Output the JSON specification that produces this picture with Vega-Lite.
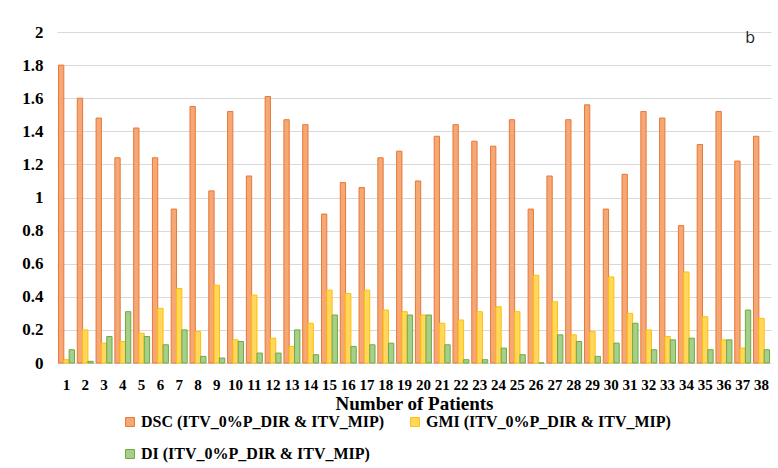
{
  "$schema": "https://vega.github.io/schema/vega-lite/v6.json",
  "width": 714,
  "height": 331,
  "autosize": {"type": "none"},
  "padding": {"left": 57, "top": 32, "right": 7, "bottom": 105},
  "background": "white",
  "title": {"text": "b", "anchor": "end", "orient": "top", "offset": -31, "dx": -16, "font": "Open Sans", "fontSize": 16, "fontWeight": "normal", "color": "#222222", "baseline": "middle"},
  "data": {"values": [
    {"p": 1, "DSC": 1.80, "GMI": 0.02, "DI": 0.08},
    {"p": 2, "DSC": 1.60, "GMI": 0.20, "DI": 0.01},
    {"p": 3, "DSC": 1.48, "GMI": 0.12, "DI": 0.16},
    {"p": 4, "DSC": 1.24, "GMI": 0.13, "DI": 0.31},
    {"p": 5, "DSC": 1.42, "GMI": 0.18, "DI": 0.16},
    {"p": 6, "DSC": 1.24, "GMI": 0.33, "DI": 0.11},
    {"p": 7, "DSC": 0.93, "GMI": 0.45, "DI": 0.20},
    {"p": 8, "DSC": 1.55, "GMI": 0.19, "DI": 0.04},
    {"p": 9, "DSC": 1.04, "GMI": 0.47, "DI": 0.03},
    {"p": 10, "DSC": 1.52, "GMI": 0.14, "DI": 0.13},
    {"p": 11, "DSC": 1.13, "GMI": 0.41, "DI": 0.06},
    {"p": 12, "DSC": 1.61, "GMI": 0.15, "DI": 0.06},
    {"p": 13, "DSC": 1.47, "GMI": 0.10, "DI": 0.20},
    {"p": 14, "DSC": 1.44, "GMI": 0.24, "DI": 0.05},
    {"p": 15, "DSC": 0.90, "GMI": 0.44, "DI": 0.29},
    {"p": 16, "DSC": 1.09, "GMI": 0.42, "DI": 0.10},
    {"p": 17, "DSC": 1.06, "GMI": 0.44, "DI": 0.11},
    {"p": 18, "DSC": 1.24, "GMI": 0.32, "DI": 0.12},
    {"p": 19, "DSC": 1.28, "GMI": 0.31, "DI": 0.29},
    {"p": 20, "DSC": 1.10, "GMI": 0.29, "DI": 0.29},
    {"p": 21, "DSC": 1.37, "GMI": 0.24, "DI": 0.11},
    {"p": 22, "DSC": 1.44, "GMI": 0.26, "DI": 0.02},
    {"p": 23, "DSC": 1.34, "GMI": 0.31, "DI": 0.02},
    {"p": 24, "DSC": 1.31, "GMI": 0.34, "DI": 0.09},
    {"p": 25, "DSC": 1.47, "GMI": 0.31, "DI": 0.05},
    {"p": 26, "DSC": 0.93, "GMI": 0.53, "DI": 0.00},
    {"p": 27, "DSC": 1.13, "GMI": 0.37, "DI": 0.17},
    {"p": 28, "DSC": 1.47, "GMI": 0.17, "DI": 0.13},
    {"p": 29, "DSC": 1.56, "GMI": 0.19, "DI": 0.04},
    {"p": 30, "DSC": 0.93, "GMI": 0.52, "DI": 0.12},
    {"p": 31, "DSC": 1.14, "GMI": 0.30, "DI": 0.24},
    {"p": 32, "DSC": 1.52, "GMI": 0.20, "DI": 0.08},
    {"p": 33, "DSC": 1.48, "GMI": 0.16, "DI": 0.14},
    {"p": 34, "DSC": 0.83, "GMI": 0.55, "DI": 0.15},
    {"p": 35, "DSC": 1.32, "GMI": 0.28, "DI": 0.08},
    {"p": 36, "DSC": 1.52, "GMI": 0.14, "DI": 0.14},
    {"p": 37, "DSC": 1.22, "GMI": 0.09, "DI": 0.32},
    {"p": 38, "DSC": 1.37, "GMI": 0.27, "DI": 0.08}
  ]},
  "transform": [{"fold": ["DSC", "GMI", "DI"], "as": ["series", "value"]}],
  "mark": {"type": "bar", "strokeWidth": 1},
  "encoding": {
    "x": {
      "field": "p", "type": "ordinal",
      "scale": {"paddingInner": 0.15, "paddingOuter": 0.08},
      "axis": {"title": "Number of Patients", "labelAngle": 0, "domain": false, "ticks": false, "labelPadding": 14,
        "labelFont": "Liberation Serif", "labelFontWeight": "bold", "labelFontSize": 15, "labelColor": "#000000",
        "titleFont": "Liberation Serif", "titleFontWeight": "bold", "titleFontSize": 19, "titleColor": "#000000", "titlePadding": 2}
    },
    "xOffset": {"field": "series", "type": "nominal", "sort": ["DSC", "GMI", "DI"]},
    "y": {
      "field": "value", "type": "quantitative",
      "scale": {"domain": [0, 2], "nice": false},
      "axis": {"title": null, "values": [0, 0.2, 0.4, 0.6, 0.8, 1, 1.2, 1.4, 1.6, 1.8, 2], "format": "~g",
        "domain": false, "ticks": false, "labelPadding": 14, "gridColor": "#d9d9d9", "gridWidth": 1,
        "labelFont": "Liberation Serif", "labelFontWeight": "bold", "labelFontSize": 17, "labelColor": "#000000"}
    },
    "fill": {
      "field": "series", "type": "nominal",
      "scale": {"domain": ["DSC", "GMI", "DI"], "range": ["#F5A774", "#FFD75E", "#A6D08A"]},
      "legend": {"title": null, "orient": "none", "legendX": 65, "legendY": 382, "columns": 2, "direction": "horizontal",
        "labelExpr": "datum.label + ' (ITV_0%P_DIR & ITV_MIP)'", "symbolType": "square", "symbolSize": 80,
        "symbolStrokeWidth": 1, "labelFont": "Liberation Serif", "labelFontWeight": "bold", "labelFontSize": 16,
        "labelColor": "#000000", "rowPadding": 16, "columnPadding": 22, "labelOffset": 3, "labelLimit": 400}
    },
    "stroke": {
      "field": "series", "type": "nominal",
      "scale": {"domain": ["DSC", "GMI", "DI"], "range": ["#E8783A", "#FFC000", "#6EA943"]},
      "legend": {"title": null, "orient": "none", "legendX": 65, "legendY": 382, "columns": 2, "direction": "horizontal",
        "labelExpr": "datum.label + ' (ITV_0%P_DIR & ITV_MIP)'", "symbolType": "square", "symbolSize": 80,
        "symbolStrokeWidth": 1, "labelFont": "Liberation Serif", "labelFontWeight": "bold", "labelFontSize": 16,
        "labelColor": "#000000", "rowPadding": 16, "columnPadding": 22, "labelOffset": 3, "labelLimit": 400}
    }
  },
  "config": {"view": {"stroke": null}}
}
